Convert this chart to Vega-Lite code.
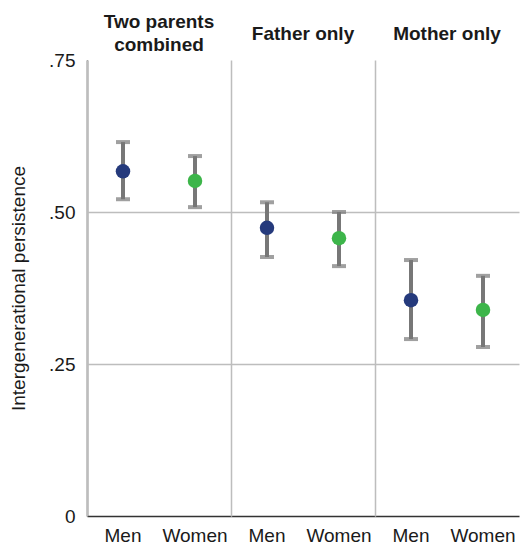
{
  "$schema": "https://vega.github.io/schema/vega-lite/v6.json",
  "padding": {"left": 9, "top": 13, "right": 2, "bottom": 0},
  "background": "white",
  "data": {
    "values": [
      {"group": "Two parents combined", "sex": "Men", "est": 0.567, "lo": 0.521, "hi": 0.615},
      {"group": "Two parents combined", "sex": "Women", "est": 0.551, "lo": 0.508, "hi": 0.592},
      {"group": "Father only", "sex": "Men", "est": 0.474, "lo": 0.426, "hi": 0.516},
      {"group": "Father only", "sex": "Women", "est": 0.457, "lo": 0.411, "hi": 0.500},
      {"group": "Mother only", "sex": "Men", "est": 0.355, "lo": 0.291, "hi": 0.421},
      {"group": "Mother only", "sex": "Women", "est": 0.339, "lo": 0.278, "hi": 0.395}
    ]
  },
  "facet": {
    "column": {
      "field": "group",
      "type": "nominal",
      "sort": ["Two parents combined", "Father only", "Mother only"],
      "title": null,
      "header": {
        "labelOrient": "top",
        "labelFont": "Liberation Sans",
        "labelFontSize": 19,
        "labelFontWeight": "bold",
        "labelColor": "#1a1a1a",
        "labelBaseline": "middle",
        "labelLineHeight": 11.5,
        "labelPadding": -4,
        "labelExpr": "datum.value == 'Two parents combined' ? ['Two parents', '\u200b', 'combined'] : ['\u200b', datum.value, '\u200b']"
      }
    }
  },
  "spacing": 0,
  "spec": {
    "width": 144,
    "height": 456,
    "encoding": {
      "x": {
        "field": "sex",
        "type": "nominal",
        "sort": ["Men", "Women"],
        "scale": {"type": "band", "paddingInner": 0, "paddingOuter": 0},
        "axis": {
          "title": null,
          "labelAngle": 0,
          "labelFont": "Liberation Sans",
          "labelFontSize": 19,
          "labelColor": "#1a1a1a",
          "labelPadding": 10,
          "ticks": false,
          "domainColor": "#333333",
          "domainWidth": 1.5,
          "grid": true,
          "bandPosition": 0,
          "gridColor": {"condition": {"test": "datum.value == 'Men'", "value": "#bdbdbd"}, "value": "transparent"},
          "gridWidth": 1.5
        }
      }
    },
    "layer": [
      {
        "mark": {"type": "rule", "color": "#777777", "strokeWidth": 4},
        "encoding": {
          "y": {
            "field": "lo",
            "type": "quantitative",
            "scale": {"domain": [0, 0.75], "nice": false},
            "axis": {
              "title": "Intergenerational persistence",
              "titleFont": "Liberation Sans",
              "titleFontSize": 19,
              "titleFontWeight": "normal",
              "titleColor": "#1a1a1a",
              "titlePadding": 20,
              "values": [0, 0.25, 0.5, 0.75],
              "labelExpr": "datum.value == 0 ? '0' : replace(format(datum.value, '.2f'), '0.', '.')",
              "labelFont": "Liberation Sans",
              "labelFontSize": 19,
              "labelColor": "#1a1a1a",
              "labelPadding": 12,
              "ticks": false,
              "domainColor": "#333333",
              "domainWidth": 1.5,
              "gridColor": {"condition": {"test": "datum.value == 0.25 || datum.value == 0.5", "value": "#bdbdbd"}, "value": "transparent"},
              "gridWidth": 1.5
            }
          },
          "y2": {"field": "hi"}
        }
      },
      {
        "mark": {"type": "tick", "color": "#777777", "thickness": 4, "size": 14},
        "encoding": {"y": {"field": "lo", "type": "quantitative"}}
      },
      {
        "mark": {"type": "tick", "color": "#777777", "thickness": 4, "size": 14},
        "encoding": {"y": {"field": "hi", "type": "quantitative"}}
      },
      {
        "mark": {"type": "circle", "size": 210, "opacity": 1},
        "encoding": {
          "y": {"field": "est", "type": "quantitative"},
          "color": {
            "field": "sex",
            "type": "nominal",
            "scale": {"domain": ["Men", "Women"], "range": ["#253a7c", "#3db54a"]},
            "legend": null
          }
        }
      }
    ]
  },
  "config": {
    "view": {"stroke": null},
    "font": "Liberation Sans"
  }
}
